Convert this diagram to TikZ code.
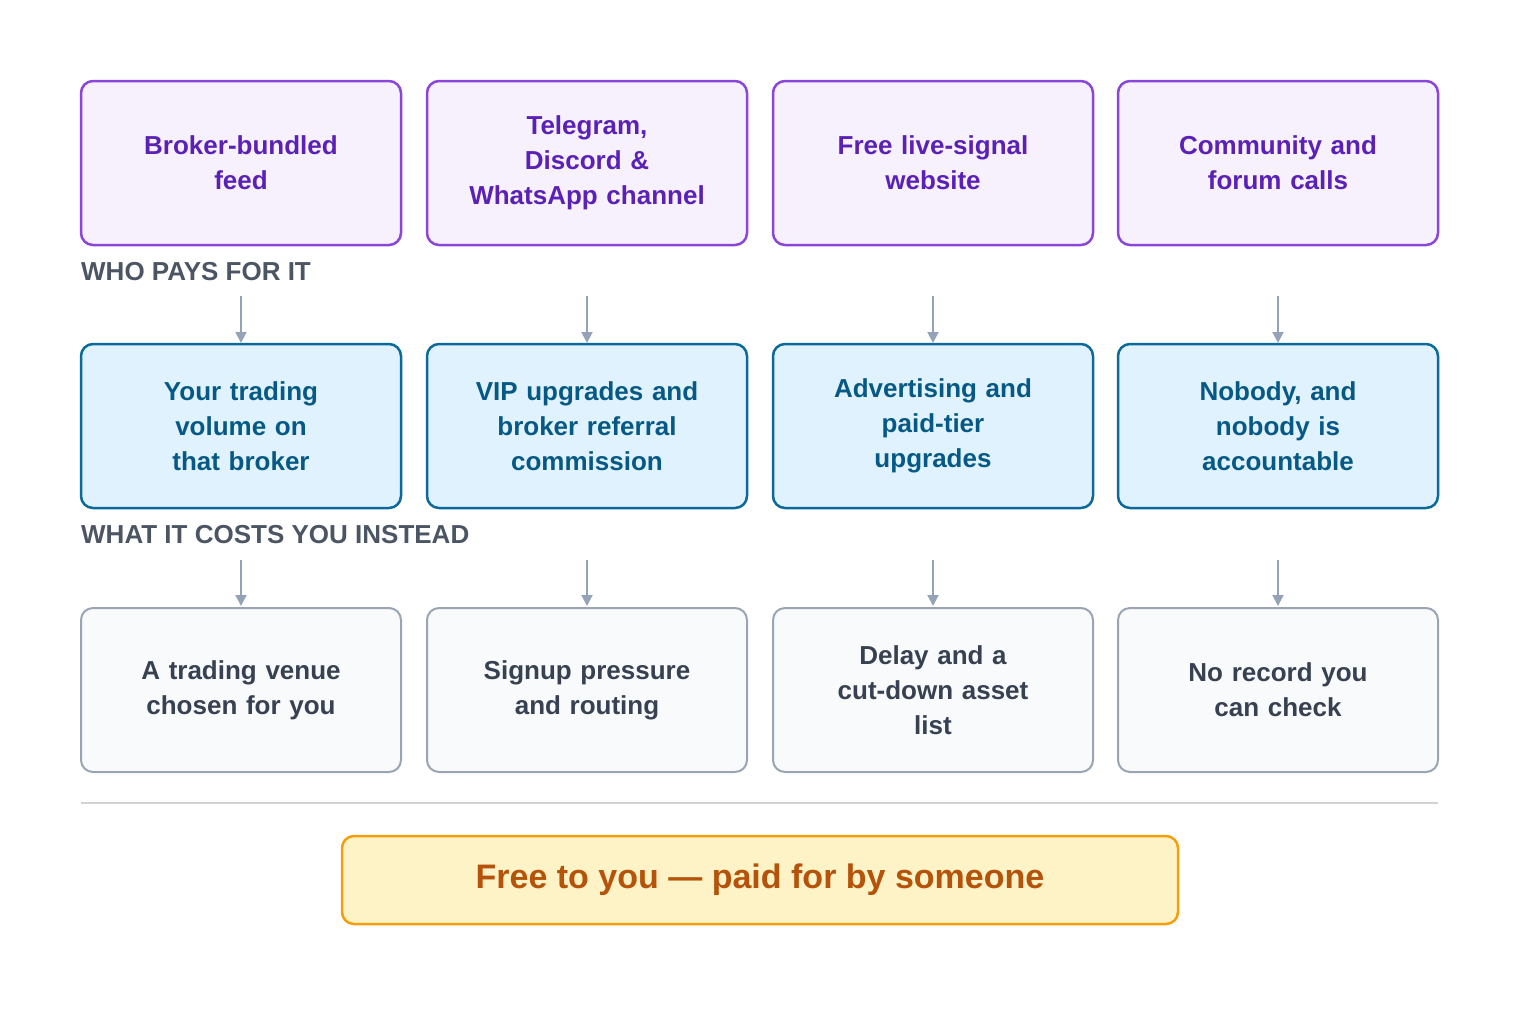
\documentclass[tikz,border=0pt]{standalone}
\usepackage{fontspec}
\setmainfont{Liberation Sans}
\usetikzlibrary{arrows.meta}
\definecolor{pb}{HTML}{8B45D9}\definecolor{pf}{HTML}{F6F1FD}\definecolor{pt}{HTML}{5B21B6}
\definecolor{bb}{HTML}{0B6A9A}\definecolor{bf}{HTML}{E0F2FE}\definecolor{bt}{HTML}{075985}
\definecolor{gb}{HTML}{9AA5B4}\definecolor{gf}{HTML}{F8FAFC}\definecolor{gt}{HTML}{374151}
\definecolor{lt}{HTML}{4B5563}\definecolor{ar}{HTML}{94A3B8}
\definecolor{yf}{HTML}{FEF3C7}\definecolor{yb}{HTML}{F59E0B}\definecolor{yt}{HTML}{B45309}
\begin{document}
\begin{tikzpicture}[x=1pt,y=-1pt,
 box/.style={rounded corners=12pt,minimum width=320pt,minimum height=164pt,align=center,
  font=\fontsize{26}{35}\selectfont\bfseries,text width=300pt,inner sep=0pt},
 src/.style={box,draw=pb,fill=pf,text=pt,line width=2.5pt},
 pay/.style={box,draw=bb,fill=bf,text=bt,line width=2.5pt},
 cost/.style={box,draw=gb,fill=gf,text=gt,line width=2pt},
 lab/.style={anchor=west,text=lt,font=\fontsize{26}{30}\selectfont\bfseries,inner sep=0pt},
 arr/.style={draw=ar,line width=2pt,-{Triangle[length=11pt,width=11pt]}}]
\useasboundingbox (0,0) rectangle (1520,1013);
\foreach \i/\x in {1/241,2/587,3/933,4/1278}{
 \coordinate (a\i) at (\x,296); \coordinate (b\i) at (\x,343);
 \coordinate (c\i) at (\x,560); \coordinate (d\i) at (\x,606);}
\node[src] (s1) at (241,163) {Broker-bundled\\feed};
\node[src] (s2) at (587,163) {Telegram,\\Discord \&\\WhatsApp channel};
\node[src] (s3) at (933,163) {Free live-signal\\website};
\node[src] (s4) at (1278,163) {Community and\\forum calls};
\node[lab] (l1) at (81,272) {WHO PAYS FOR IT};
\node[pay] (p1) at (241,426) {Your trading\\volume on\\that broker};
\node[pay] (p2) at (587,426) {VIP upgrades and\\broker referral\\commission};
\node[pay] (p3) at (933,426) {Advertising and\\paid-tier\\upgrades};
\node[pay] (p4) at (1278,426) {Nobody, and\\nobody is\\accountable};
\node[lab] (l2) at (81,535) {WHAT IT COSTS YOU INSTEAD};
\node[cost] (k1) at (241,690) {A trading venue\\chosen for you};
\node[cost] (k2) at (587,690) {Signup pressure\\and routing};
\node[cost] (k3) at (933,690) {Delay and a\\cut-down asset\\list};
\node[cost] (k4) at (1278,690) {No record you\\can check};
\foreach \i in {1,...,4}{\draw[arr] (a\i) -- (b\i); \draw[arr] (c\i) -- (d\i);}
\coordinate (h1) at (81,803); \coordinate (h2) at (1438,803);
\draw[draw=gray!35,line width=1.5pt] (h1) -- (h2);
\node[draw=yb,fill=yf,line width=2.5pt,rounded corners=12pt,minimum width=836pt,minimum height=88pt,
 text=yt,font=\fontsize{34}{40}\selectfont\bfseries] (f) at (760,880) {Free to you — paid for by someone};
\end{tikzpicture}
\end{document}
